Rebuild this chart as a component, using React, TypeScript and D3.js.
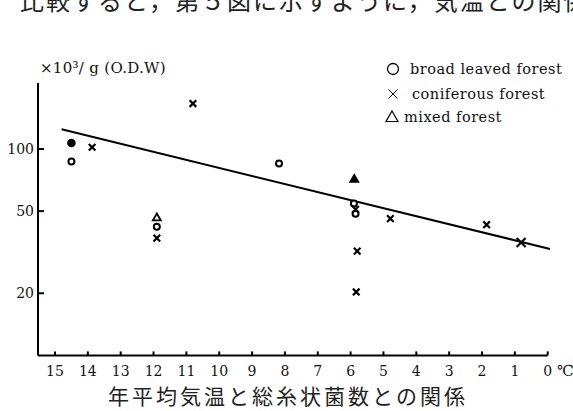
import React from "react";
import * as d3 from "d3";

const xTicks = [15, 14, 13, 12, 11, 10, 9, 8, 7, 6, 5, 4, 3, 2, 1, 0];
const yTicks = [100, 50, 20];

const broadT = [14.5, 14.5, 11.9, 8.18, 5.9, 5.85];
const broadV = [107, 87, 42, 85, 54.5, 48.5];
const broadFilled = [true, false, false, false, false, false];

const coniferT = [13.87, 10.8, 11.9, 5.85, 5.8, 5.83, 4.79, 1.86, 0.81];
const coniferV = [102, 166, 37, 51, 32, 20.3, 46, 43, 35.2];

const mixedT = [11.9, 5.89];
const mixedV = [46.6, 71.6];
const mixedFilled = [false, true];

const fitT = [14.8, -0.07];
const fitV = [124.6, 32.8];

const legendItems = ["broad leaved forest", "coniferous forest", "mixed forest"];
const yLabel = "×10³/ g (O.D.W)";
const caption = "年平均気温と総糸状菌数との関係";
const topText = "比較すると，第５図に示すように，気温との関係は";

const serif = "'DejaVu Serif', 'Liberation Serif', serif";
const cjk = "'Noto Sans CJK JP', sans-serif";

export default function App() {
  const x = d3.scaleLinear().domain([15, 0]).range([55, 547.7]);
  const y = d3.scaleLog().domain([10, 100]).range([355.4, 149]);
  const axisLeft = 38;
  const axisTop = 83;
  const axisBottom = y(10);
  const line = d3
    .line<number>()
    .x((_, i) => x(fitT[i]))
    .y((_, i) => y(fitV[i]));

  const cross = (cx: number, cy: number, s: number, key: string, w = 2) => (
    <path
      key={key}
      d={`M${cx - s},${cy - s}L${cx + s},${cy + s}M${cx - s},${cy + s}L${cx + s},${cy - s}`}
      stroke="#000"
      strokeWidth={w}
      fill="none"
    />
  );
  const tri = (cx: number, cy: number, s: number, filled: boolean, key: string, w = 1.8) => (
    <path
      key={key}
      d={`M${cx},${cy - s}L${cx + s},${cy + s * 0.75}L${cx - s},${cy + s * 0.75}Z`}
      stroke="#000"
      strokeWidth={w}
      fill={filled ? "#000" : "#fff"}
    />
  );

  return (
    <svg
      width={573}
      height={411}
      style={{ position: "absolute", left: 0, top: 0, background: "#fff" }}
    >
      <rect width={573} height={411} fill="#fff" />
      <text x={20} y={10} fontFamily={cjk} fontSize={24} fill="#222" letterSpacing={2}>
        {topText}
      </text>

      {/* axes */}
      <line x1={axisLeft} x2={axisLeft} y1={axisTop} y2={axisBottom} stroke="#000" strokeWidth={2} />
      <line x1={axisLeft} x2={x(0)} y1={axisBottom} y2={axisBottom} stroke="#000" strokeWidth={2} />
      {yTicks.map((t) => (
        <g key={"yt" + t}>
          <line x1={axisLeft} x2={axisLeft + 6} y1={y(t)} y2={y(t)} stroke="#000" strokeWidth={2} />
          <text
            x={axisLeft - 4}
            y={y(t)}
            dy="0.35em"
            textAnchor="end"
            fontFamily={serif}
            fontSize={14}
            fill="#111"
          >
            {t}
          </text>
        </g>
      ))}
      {xTicks.map((t) => (
        <g key={"xt" + t}>
          <line x1={x(t)} x2={x(t)} y1={axisBottom} y2={axisBottom - 4} stroke="#000" strokeWidth={2} />
          <text
            x={x(t)}
            y={371}
            dy="0.35em"
            textAnchor="middle"
            fontFamily={serif}
            fontSize={14}
            fill="#111"
          >
            {t}
          </text>
        </g>
      ))}
      <text x={557} y={371} dy="0.35em" fontFamily={serif} fontSize={15} fill="#111">
        ℃
      </text>

      <text x={40} y={73} fontFamily={serif} fontSize={15} fill="#111" letterSpacing={0.3}>
        {yLabel}
      </text>

      {/* regression line */}
      <path d={line(fitT) || ""} stroke="#000" strokeWidth={2} fill="none" />

      {/* points */}
      {broadT.map((t, i) => (
        <circle
          key={"b" + i}
          cx={x(t)}
          cy={y(broadV[i])}
          r={broadFilled[i] ? 3.3 : 3}
          fill={broadFilled[i] ? "#000" : "#fff"}
          stroke="#000"
          strokeWidth={2}
        />
      ))}
      {coniferT.map((t, i) => cross(x(t), y(coniferV[i]), i === coniferT.length - 1 ? 4.5 : 3.3, "c" + i, 2.2))}
      {mixedT.map((t, i) => tri(x(t), y(mixedV[i]), 4, mixedFilled[i], "m" + i))}

      {/* legend */}
      {legendItems.map((label, i) => {
        const ly = [69, 94, 117][i];
        const tx = [410, 412, 404][i];
        return (
          <g key={"lg" + i}>
            {i === 0 && <circle cx={393} cy={ly} r={5.5} fill="none" stroke="#000" strokeWidth={1.3} />}
            {i === 1 && cross(393, ly, 4.5, "lc", 1)}
            {i === 2 && tri(392, ly, 6, false, "lt", 1.2)}
            <text x={tx} y={ly} dy="0.35em" fontFamily={serif} fontSize={14.5} fill="#111" letterSpacing={0.5}>
              {label}
            </text>
          </g>
        );
      })}

      <text x={288} y={397} dy="0.35em" textAnchor="middle" fontFamily={cjk} fontSize={21} fill="#222" letterSpacing={3}>
        {caption}
      </text>
    </svg>
  );
}
